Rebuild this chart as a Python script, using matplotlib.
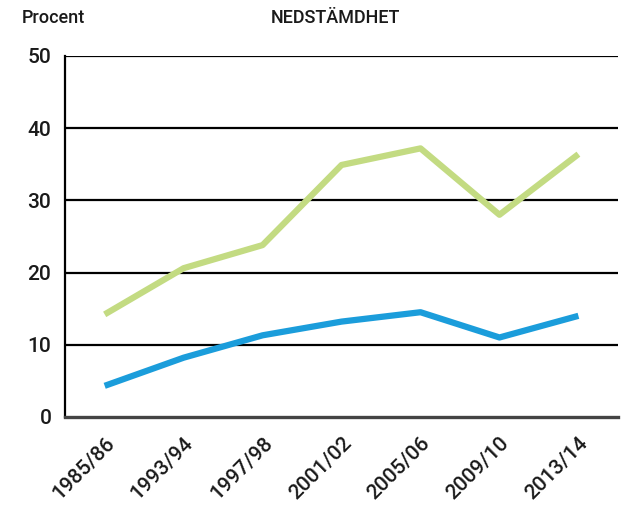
import matplotlib
matplotlib.use("Agg")
import matplotlib.pyplot as plt

# survey rounds and share (%) reporting low mood
years = ["1985/86", "1993/94", "1997/98", "2001/02", "2005/06", "2009/10", "2013/14"]
green_values = [14.2, 20.6, 23.8, 34.9, 37.2, 28.0, 36.4]
blue_values = [4.3, 8.2, 11.3, 13.2, 14.5, 11.0, 14.0]
y_ticks = [0, 10, 20, 30, 40, 50]

plt.rcParams["font.family"] = ["Roboto", "DejaVu Sans"]
plt.rcParams["font.weight"] = "medium"

fig = plt.figure(figsize=(6.21, 5.09), dpi=100)
ax = fig.add_axes([0.105, 0.181, 0.89, 0.709])

x = list(range(len(years)))
ax.plot(x, green_values, color="#c3db82", linewidth=4.5, solid_capstyle="butt", zorder=3)
ax.plot(x, blue_values, color="#1b9ddb", linewidth=4.5, solid_capstyle="butt", zorder=3)

ax.set_xlim(-0.5, 6.5)
ax.set_ylim(0, 50)
ax.set_yticks(y_ticks)
ax.set_xticks(x)
ax.set_xticklabels(years, rotation=45, ha="right", va="top", rotation_mode="anchor")
ax.tick_params(axis="both", length=0, labelsize=15, colors="#1a1a1a")
ax.tick_params(axis="x", pad=12)
ax.tick_params(axis="y", pad=10)

for t in y_ticks[1:]:
    ax.axhline(t, color="black", linewidth=1.6, zorder=1)

for side in ["top", "right"]:
    ax.spines[side].set_visible(False)
ax.spines["left"].set_linewidth(1.6)
ax.spines["bottom"].set_linewidth(2.4)
ax.spines["bottom"].set_color("#444444")

fig.text(0.035, 0.965, "Procent", fontsize=13, ha="left", va="center", color="#1a1a1a")
fig.text(0.54, 0.965, "NEDSTÄMDHET", fontsize=13, ha="center", va="center", color="#1a1a1a")

fig.savefig("out.png", dpi=100)
